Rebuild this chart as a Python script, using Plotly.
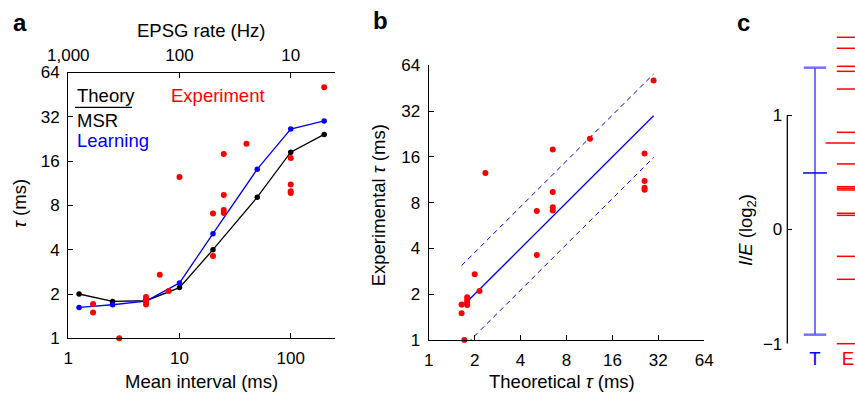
import numpy as np
import plotly.graph_objects as go

# ---------------- data ----------------
# Panel a: model curves
model_interval = [1.25, 2.5, 5, 10, 20, 50, 100, 200]          # mean interval (ms)
tau_msr = [2.0, 1.78, 1.80, 2.21, 4.0, 9.1, 18.4, 24.3]         # Theory (MSR)
tau_learning = [1.62, 1.69, 1.79, 2.38, 5.14, 14.1, 26.4, 30.0]  # Learning

# Experiments: interval (ms), measured tau (ms), theoretical tau (ms, panel b)
exp_interval = [1.67, 1.67, 2.87, 5, 5, 5, 5, 6.64, 8.0, 10, 20, 20,
                25, 25, 25, 25, 40, 100, 100, 100, 100, 200]
exp_tau = [1.71, 1.50, 1.00, 1.91, 1.83, 1.77, 1.70, 2.70, 2.10, 12.5, 7.05, 3.62,
           17.9, 9.4, 7.45, 7.1, 21.0, 16.8, 11.1, 10.0, 9.7, 50.8]
exp_theory = [1.64, 1.64, 1.71, 1.785, 1.785, 1.785, 1.785, 2.0, 2.15, 2.35, 5.11, 5.11,
              6.5, 6.5, 6.5, 6.5, 11.4, 26.0, 26.0, 26.0, 26.0, 29.8]
band_factor = 1.88  # dashed lines: y = x * f and y = x / f

# Panel c: I/E (log2)
theory_ie_low, theory_ie_high, theory_ie_mean = -0.921, 1.417, 0.495
exp_ie = [1.683, 1.587, 1.429, 1.385, 1.230, 0.851, 0.574, 0.375, 0.361, 0.346,
          0.142, 0.124, -0.235, -0.436, -1.0]
exp_ie_mean = 0.757
group_labels = ["T", "E"]

tau_ticks = [1, 2, 4, 8, 16, 32, 64]
interval_ticks = [1, 10, 100]
rate_ticks = [1000, 100, 10]
rate_ticktext = ["1,000", "100", "10"]

# ---------------- figure ----------------
W, H = 855, 393
FONT = "Liberation Sans, Arial, sans-serif"
def X(px): return px / W
def Y(py): return 1 - py / H

fig = go.Figure()

RED = "#ff0000"
BLUE = "#0000ff"

# Panel a
fig.add_trace(go.Scatter(x=model_interval, y=tau_msr, mode="lines+markers",
                         line=dict(color="black", width=1.3), marker=dict(size=5.5, color="black"),
                         xaxis="x", yaxis="y", hoverinfo="skip"))
fig.add_trace(go.Scatter(x=model_interval, y=tau_learning, mode="lines+markers",
                         line=dict(color=BLUE, width=1.3), marker=dict(size=5.5, color=BLUE),
                         xaxis="x", yaxis="y", hoverinfo="skip"))
fig.add_trace(go.Scatter(x=exp_interval, y=exp_tau, mode="markers",
                         marker=dict(size=6, color=RED), xaxis="x", yaxis="y", cliponaxis=False,
                         hoverinfo="skip"))
# invisible trace on top (rate) axis
fig.add_trace(go.Scatter(x=[1000 / v for v in model_interval], y=tau_msr, mode="markers",
                         marker=dict(opacity=0), xaxis="x2", yaxis="y", hoverinfo="skip"))

# Panel b
tmin, tmax = min(exp_theory), max(exp_theory)
line_x = [tmin, tmax]
fig.add_trace(go.Scatter(x=line_x, y=line_x, mode="lines", line=dict(color=BLUE, width=1.3),
                         xaxis="x3", yaxis="y3", hoverinfo="skip"))
fig.add_trace(go.Scatter(x=line_x, y=[v * band_factor for v in line_x], mode="lines",
                         line=dict(color=BLUE, width=1, dash="5px,4px"),
                         xaxis="x3", yaxis="y3", hoverinfo="skip"))
fig.add_trace(go.Scatter(x=line_x, y=[v / band_factor for v in line_x], mode="lines",
                         line=dict(color=BLUE, width=1, dash="5px,4px"),
                         xaxis="x3", yaxis="y3", hoverinfo="skip"))
fig.add_trace(go.Scatter(x=exp_theory, y=exp_tau, mode="markers",
                         marker=dict(size=6, color=RED), xaxis="x3", yaxis="y3", cliponaxis=False,
                         hoverinfo="skip"))

# Panel c
LIGHTBLUE = "rgba(90,90,255,0.85)"
fig.add_trace(go.Scatter(x=[1, 1], y=[theory_ie_low, theory_ie_high], mode="lines",
                         line=dict(color=LIGHTBLUE, width=2), xaxis="x4", yaxis="y4", hoverinfo="skip"))
fig.add_trace(go.Scatter(x=[1, 1], y=[theory_ie_low, theory_ie_high], mode="markers",
                         marker=dict(symbol="line-ew", size=16, line=dict(color=LIGHTBLUE, width=2.5)),
                         xaxis="x4", yaxis="y4", cliponaxis=False, hoverinfo="skip"))
fig.add_trace(go.Scatter(x=[1], y=[theory_ie_mean], mode="markers",
                         marker=dict(symbol="line-ew", size=17, line=dict(color=BLUE, width=1.5)),
                         xaxis="x4", yaxis="y4", cliponaxis=False, hoverinfo="skip"))
fig.add_trace(go.Scatter(x=[2] * len(exp_ie), y=exp_ie, mode="markers",
                         marker=dict(symbol="line-ew", size=16, line=dict(color=RED, width=1.5)),
                         xaxis="x4", yaxis="y4", cliponaxis=False, hoverinfo="skip"))
fig.add_trace(go.Scatter(x=[2], y=[exp_ie_mean], mode="markers",
                         marker=dict(symbol="line-ew", size=32, line=dict(color=RED, width=1.5)),
                         xaxis="x4", yaxis="y4", cliponaxis=False, hoverinfo="skip"))

TICKFONT = dict(family=FONT, size=17, color="black")
axis_common = dict(showgrid=False, zeroline=False, showline=True, linecolor="black", linewidth=1.3,
                   ticks="inside", ticklen=5, tickwidth=1.2, tickcolor="black",
                   tickfont=TICKFONT, automargin=False)

log64 = np.log10(64)
fig.update_layout(
    width=W, height=H, margin=dict(l=0, r=0, t=0, b=0),
    paper_bgcolor="white", plot_bgcolor="white", showlegend=False,
    font=dict(family=FONT, size=16, color="black"),
    xaxis=dict(type="log", range=[0, 2.4], domain=[X(68.3), X(335.2)], anchor="y",
               tickvals=interval_ticks, ticktext=[str(v) for v in interval_ticks],
               ticklabelstandoff=4, **axis_common),
    xaxis2=dict(type="log", range=[3, 3 - 2.4], overlaying="x", side="top", anchor="y",
                tickvals=rate_ticks, ticktext=rate_ticktext, ticklabelstandoff=4, **axis_common),
    yaxis=dict(type="log", range=[0, log64], domain=[Y(338.3), Y(72.5)], anchor="x",
               tickvals=tau_ticks, ticktext=[str(v) for v in tau_ticks],
               ticklabelstandoff=4, **axis_common),
    xaxis3=dict(type="log", range=[0, log64], domain=[X(428.8), X(704.2)], anchor="y3",
                tickvals=tau_ticks, ticktext=[str(v) for v in tau_ticks],
                ticklabelstandoff=4, **axis_common),
    yaxis3=dict(type="log", range=[0, log64], domain=[Y(340), Y(65.2)], anchor="x3",
                tickvals=tau_ticks, ticktext=[str(v) for v in tau_ticks],
                ticklabelstandoff=4, **axis_common),
    xaxis4=dict(range=[0.161, 2.212], domain=[X(787.3), 1.0], anchor="y4",
                showgrid=False, zeroline=False, showline=False, ticks="",
                tickvals=[1, 2], ticktext=[
                    f'<span style="color:{BLUE}">{group_labels[0]}</span>',
                    f'<span style="color:{RED}">{group_labels[1]}</span>'],
                tickfont=dict(family=FONT, size=18.5, color="black"),
                ticklabelstandoff=2, automargin=False),
    yaxis4=dict(range=[-1, 1.75], domain=[Y(343.7), Y(29.65)], anchor="x4",
                showgrid=False, zeroline=False, showline=False,
                ticks="inside", ticklen=5, tickwidth=1.2, tickcolor="black",
                tickvals=[-1, 0, 1], tickfont=TICKFONT,
                ticklabelstandoff=4, automargin=False),
)

# panel c spine (-1 .. 1 only)
fig.add_shape(type="line", xref="x4 domain", yref="y4", x0=0, x1=0, y0=-1, y1=1,
              line=dict(color="black", width=1.3))
# legend fraction bar in panel a
fig.add_shape(type="line", xref="paper", yref="paper", x0=X(75), x1=X(132), y0=Y(107.3), y1=Y(107.3),
              line=dict(color="black", width=1.2))

def ann(text, px, py, size=18.5, color="black", angle=0, xanchor="center", bold=False):
    fig.add_annotation(text=f"<b>{text}</b>" if bold else text, x=X(px), y=Y(py),
                       xref="paper", yref="paper", showarrow=False, textangle=angle,
                       xanchor=xanchor, yanchor="middle",
                       font=dict(family=FONT, size=size, color=color))

ann("a", 20, 22.5, size=24, bold=True)
ann("b", 380.5, 20.5, size=24, bold=True)
ann("c", 743, 22.5, size=24, bold=True)
ann("EPSG rate (Hz)", 201.7, 30)
ann("Mean interval (ms)", 201.7, 381.7)
ann("<i>τ</i> (ms)", 19, 204, angle=-90)
ann("Theory", 75, 95, xanchor="left")
ann("MSR", 75, 120, xanchor="left")
ann("Learning", 75, 140, color=BLUE, xanchor="left")
ann("Experiment", 218, 95, color=RED)
ann("Experimental <i>τ</i> (ms)", 378.3, 205, angle=-90)
ann("Theoretical <i>τ</i> (ms)", 561.5, 381.7)
ann("<i>I</i>/<i>E</i> (log<sub>2</sub>)", 747, 230, angle=-90)

fig.write_html("out.html", config={"displayModeBar": False},
               post_script="document.documentElement.style.overflow='hidden';"
                           "document.body.style.margin='0';document.body.style.overflow='hidden';")
